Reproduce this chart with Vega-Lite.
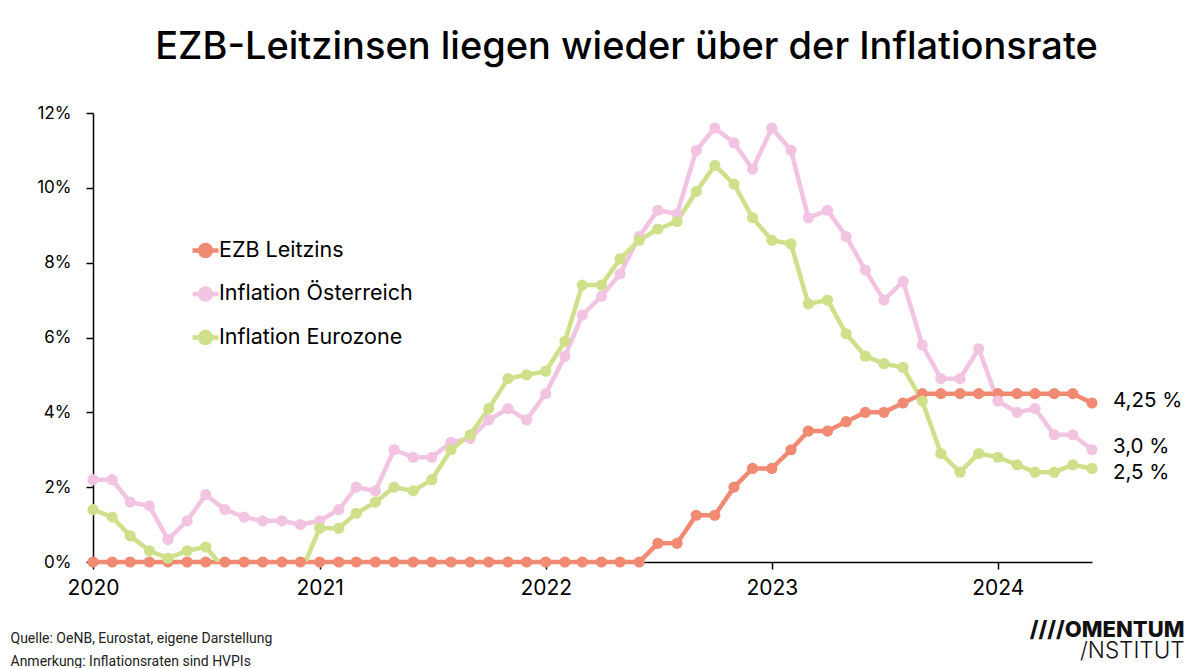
{
  "$schema": "https://vega.github.io/schema/vega-lite/v6.json",
  "width": 999,
  "height": 449,
  "autosize": {"type": "none"},
  "padding": {"left": 93, "top": 113, "right": 108, "bottom": 106},
  "background": "white",
  "config": {"font": "Inter", "view": {"stroke": null}, "axis": {"grid": false}},
  "title": {"text": "EZB-Leitzinsen liegen wieder über der Inflationsrate", "fontSize": 38, "fontWeight": 500, "color": "#000", "anchor": "middle", "frame": "group", "dx": 34, "offset": 37},
  "datasets": {
    "main": [
      {"date":"2020-01-01","series":"EZB Leitzins","value":0},{"date":"2020-02-01","series":"EZB Leitzins","value":0},{"date":"2020-03-01","series":"EZB Leitzins","value":0},{"date":"2020-04-01","series":"EZB Leitzins","value":0},{"date":"2020-05-01","series":"EZB Leitzins","value":0},{"date":"2020-06-01","series":"EZB Leitzins","value":0},{"date":"2020-07-01","series":"EZB Leitzins","value":0},{"date":"2020-08-01","series":"EZB Leitzins","value":0},{"date":"2020-09-01","series":"EZB Leitzins","value":0},{"date":"2020-10-01","series":"EZB Leitzins","value":0},{"date":"2020-11-01","series":"EZB Leitzins","value":0},{"date":"2020-12-01","series":"EZB Leitzins","value":0},
      {"date":"2021-01-01","series":"EZB Leitzins","value":0},{"date":"2021-02-01","series":"EZB Leitzins","value":0},{"date":"2021-03-01","series":"EZB Leitzins","value":0},{"date":"2021-04-01","series":"EZB Leitzins","value":0},{"date":"2021-05-01","series":"EZB Leitzins","value":0},{"date":"2021-06-01","series":"EZB Leitzins","value":0},{"date":"2021-07-01","series":"EZB Leitzins","value":0},{"date":"2021-08-01","series":"EZB Leitzins","value":0},{"date":"2021-09-01","series":"EZB Leitzins","value":0},{"date":"2021-10-01","series":"EZB Leitzins","value":0},{"date":"2021-11-01","series":"EZB Leitzins","value":0},{"date":"2021-12-01","series":"EZB Leitzins","value":0},
      {"date":"2022-01-01","series":"EZB Leitzins","value":0},{"date":"2022-02-01","series":"EZB Leitzins","value":0},{"date":"2022-03-01","series":"EZB Leitzins","value":0},{"date":"2022-04-01","series":"EZB Leitzins","value":0},{"date":"2022-05-01","series":"EZB Leitzins","value":0},{"date":"2022-06-01","series":"EZB Leitzins","value":0},{"date":"2022-07-01","series":"EZB Leitzins","value":0.5},{"date":"2022-08-01","series":"EZB Leitzins","value":0.5},{"date":"2022-09-01","series":"EZB Leitzins","value":1.25},{"date":"2022-10-01","series":"EZB Leitzins","value":1.25},{"date":"2022-11-01","series":"EZB Leitzins","value":2},{"date":"2022-12-01","series":"EZB Leitzins","value":2.5},
      {"date":"2023-01-01","series":"EZB Leitzins","value":2.5},{"date":"2023-02-01","series":"EZB Leitzins","value":3},{"date":"2023-03-01","series":"EZB Leitzins","value":3.5},{"date":"2023-04-01","series":"EZB Leitzins","value":3.5},{"date":"2023-05-01","series":"EZB Leitzins","value":3.75},{"date":"2023-06-01","series":"EZB Leitzins","value":4},{"date":"2023-07-01","series":"EZB Leitzins","value":4},{"date":"2023-08-01","series":"EZB Leitzins","value":4.25},{"date":"2023-09-01","series":"EZB Leitzins","value":4.5},{"date":"2023-10-01","series":"EZB Leitzins","value":4.5},{"date":"2023-11-01","series":"EZB Leitzins","value":4.5},{"date":"2023-12-01","series":"EZB Leitzins","value":4.5},
      {"date":"2024-01-01","series":"EZB Leitzins","value":4.5},{"date":"2024-02-01","series":"EZB Leitzins","value":4.5},{"date":"2024-03-01","series":"EZB Leitzins","value":4.5},{"date":"2024-04-01","series":"EZB Leitzins","value":4.5},{"date":"2024-05-01","series":"EZB Leitzins","value":4.5},{"date":"2024-06-01","series":"EZB Leitzins","value":4.25},

      {"date":"2020-01-01","series":"Inflation Österreich","value":2.2},{"date":"2020-02-01","series":"Inflation Österreich","value":2.2},{"date":"2020-03-01","series":"Inflation Österreich","value":1.6},{"date":"2020-04-01","series":"Inflation Österreich","value":1.5},{"date":"2020-05-01","series":"Inflation Österreich","value":0.6},{"date":"2020-06-01","series":"Inflation Österreich","value":1.1},{"date":"2020-07-01","series":"Inflation Österreich","value":1.8},{"date":"2020-08-01","series":"Inflation Österreich","value":1.4},{"date":"2020-09-01","series":"Inflation Österreich","value":1.2},{"date":"2020-10-01","series":"Inflation Österreich","value":1.1},{"date":"2020-11-01","series":"Inflation Österreich","value":1.1},{"date":"2020-12-01","series":"Inflation Österreich","value":1.0},
      {"date":"2021-01-01","series":"Inflation Österreich","value":1.1},{"date":"2021-02-01","series":"Inflation Österreich","value":1.4},{"date":"2021-03-01","series":"Inflation Österreich","value":2.0},{"date":"2021-04-01","series":"Inflation Österreich","value":1.9},{"date":"2021-05-01","series":"Inflation Österreich","value":3.0},{"date":"2021-06-01","series":"Inflation Österreich","value":2.8},{"date":"2021-07-01","series":"Inflation Österreich","value":2.8},{"date":"2021-08-01","series":"Inflation Österreich","value":3.2},{"date":"2021-09-01","series":"Inflation Österreich","value":3.3},{"date":"2021-10-01","series":"Inflation Österreich","value":3.8},{"date":"2021-11-01","series":"Inflation Österreich","value":4.1},{"date":"2021-12-01","series":"Inflation Österreich","value":3.8},
      {"date":"2022-01-01","series":"Inflation Österreich","value":4.5},{"date":"2022-02-01","series":"Inflation Österreich","value":5.5},{"date":"2022-03-01","series":"Inflation Österreich","value":6.6},{"date":"2022-04-01","series":"Inflation Österreich","value":7.1},{"date":"2022-05-01","series":"Inflation Österreich","value":7.7},{"date":"2022-06-01","series":"Inflation Österreich","value":8.7},{"date":"2022-07-01","series":"Inflation Österreich","value":9.4},{"date":"2022-08-01","series":"Inflation Österreich","value":9.3},{"date":"2022-09-01","series":"Inflation Österreich","value":11.0},{"date":"2022-10-01","series":"Inflation Österreich","value":11.6},{"date":"2022-11-01","series":"Inflation Österreich","value":11.2},{"date":"2022-12-01","series":"Inflation Österreich","value":10.5},
      {"date":"2023-01-01","series":"Inflation Österreich","value":11.6},{"date":"2023-02-01","series":"Inflation Österreich","value":11.0},{"date":"2023-03-01","series":"Inflation Österreich","value":9.2},{"date":"2023-04-01","series":"Inflation Österreich","value":9.4},{"date":"2023-05-01","series":"Inflation Österreich","value":8.7},{"date":"2023-06-01","series":"Inflation Österreich","value":7.8},{"date":"2023-07-01","series":"Inflation Österreich","value":7.0},{"date":"2023-08-01","series":"Inflation Österreich","value":7.5},{"date":"2023-09-01","series":"Inflation Österreich","value":5.8},{"date":"2023-10-01","series":"Inflation Österreich","value":4.9},{"date":"2023-11-01","series":"Inflation Österreich","value":4.9},{"date":"2023-12-01","series":"Inflation Österreich","value":5.7},
      {"date":"2024-01-01","series":"Inflation Österreich","value":4.3},{"date":"2024-02-01","series":"Inflation Österreich","value":4.0},{"date":"2024-03-01","series":"Inflation Österreich","value":4.1},{"date":"2024-04-01","series":"Inflation Österreich","value":3.4},{"date":"2024-05-01","series":"Inflation Österreich","value":3.4},{"date":"2024-06-01","series":"Inflation Österreich","value":3.0},

      {"date":"2020-01-01","series":"Inflation Eurozone","value":1.4},{"date":"2020-02-01","series":"Inflation Eurozone","value":1.2},{"date":"2020-03-01","series":"Inflation Eurozone","value":0.7},{"date":"2020-04-01","series":"Inflation Eurozone","value":0.3},{"date":"2020-05-01","series":"Inflation Eurozone","value":0.1},{"date":"2020-06-01","series":"Inflation Eurozone","value":0.3},{"date":"2020-07-01","series":"Inflation Eurozone","value":0.4},{"date":"2020-08-01","series":"Inflation Eurozone","value":-0.2},{"date":"2020-09-01","series":"Inflation Eurozone","value":-0.3},{"date":"2020-10-01","series":"Inflation Eurozone","value":-0.3},{"date":"2020-11-01","series":"Inflation Eurozone","value":-0.3},{"date":"2020-12-01","series":"Inflation Eurozone","value":-0.3},
      {"date":"2021-01-01","series":"Inflation Eurozone","value":0.9},{"date":"2021-02-01","series":"Inflation Eurozone","value":0.9},{"date":"2021-03-01","series":"Inflation Eurozone","value":1.3},{"date":"2021-04-01","series":"Inflation Eurozone","value":1.6},{"date":"2021-05-01","series":"Inflation Eurozone","value":2.0},{"date":"2021-06-01","series":"Inflation Eurozone","value":1.9},{"date":"2021-07-01","series":"Inflation Eurozone","value":2.2},{"date":"2021-08-01","series":"Inflation Eurozone","value":3.0},{"date":"2021-09-01","series":"Inflation Eurozone","value":3.4},{"date":"2021-10-01","series":"Inflation Eurozone","value":4.1},{"date":"2021-11-01","series":"Inflation Eurozone","value":4.9},{"date":"2021-12-01","series":"Inflation Eurozone","value":5.0},
      {"date":"2022-01-01","series":"Inflation Eurozone","value":5.1},{"date":"2022-02-01","series":"Inflation Eurozone","value":5.9},{"date":"2022-03-01","series":"Inflation Eurozone","value":7.4},{"date":"2022-04-01","series":"Inflation Eurozone","value":7.4},{"date":"2022-05-01","series":"Inflation Eurozone","value":8.1},{"date":"2022-06-01","series":"Inflation Eurozone","value":8.6},{"date":"2022-07-01","series":"Inflation Eurozone","value":8.9},{"date":"2022-08-01","series":"Inflation Eurozone","value":9.1},{"date":"2022-09-01","series":"Inflation Eurozone","value":9.9},{"date":"2022-10-01","series":"Inflation Eurozone","value":10.6},{"date":"2022-11-01","series":"Inflation Eurozone","value":10.1},{"date":"2022-12-01","series":"Inflation Eurozone","value":9.2},
      {"date":"2023-01-01","series":"Inflation Eurozone","value":8.6},{"date":"2023-02-01","series":"Inflation Eurozone","value":8.5},{"date":"2023-03-01","series":"Inflation Eurozone","value":6.9},{"date":"2023-04-01","series":"Inflation Eurozone","value":7.0},{"date":"2023-05-01","series":"Inflation Eurozone","value":6.1},{"date":"2023-06-01","series":"Inflation Eurozone","value":5.5},{"date":"2023-07-01","series":"Inflation Eurozone","value":5.3},{"date":"2023-08-01","series":"Inflation Eurozone","value":5.2},{"date":"2023-09-01","series":"Inflation Eurozone","value":4.3},{"date":"2023-10-01","series":"Inflation Eurozone","value":2.9},{"date":"2023-11-01","series":"Inflation Eurozone","value":2.4},{"date":"2023-12-01","series":"Inflation Eurozone","value":2.9},
      {"date":"2024-01-01","series":"Inflation Eurozone","value":2.8},{"date":"2024-02-01","series":"Inflation Eurozone","value":2.6},{"date":"2024-03-01","series":"Inflation Eurozone","value":2.4},{"date":"2024-04-01","series":"Inflation Eurozone","value":2.4},{"date":"2024-05-01","series":"Inflation Eurozone","value":2.6},{"date":"2024-06-01","series":"Inflation Eurozone","value":2.5}
    ],
    "ends": [
      {"date":"2024-06-01","series":"EZB Leitzins","value":4.25,"label":"4,25 %"},
      {"date":"2024-06-01","series":"Inflation Österreich","value":3.0,"label":"3,0 %"},
      {"date":"2024-06-01","series":"Inflation Eurozone","value":2.5,"label":"2,5 %"}
    ]
  },
  "data": {"name": "main"},
  "encoding": {
    "x": {
      "field": "date", "type": "temporal",
      "scale": {"domain": ["2020-01-01", "2024-06-01"], "nice": false},
      "axis": {
        "format": "%Y", "tickCount": {"interval": "year", "step": 1},
        "labelFontSize": 21, "labelColor": "#000", "labelPadding": 8, "labelFlush": false, "labelOverlap": false,
        "tickSize": 7, "tickColor": "#000", "tickWidth": 1.5,
        "domainColor": "#000", "domainWidth": 1.5, "grid": false,
        "title": ["Quelle: OeNB, Eurostat, eigene Darstellung", "Anmerkung: Inflationsraten sind HVPIs"],
        "titleX": -83, "titleY": 80, "titleAlign": "left", "titleAngle": 0, "titleBaseline": "alphabetic",
        "titleFontSize": 14, "titleFontWeight": "normal", "titleColor": "#222", "titleLineHeight": 23,
        "titleFont": "Liberation Sans Narrow, Roboto, sans-serif"
      }
    },
    "color": {
      "field": "series", "type": "nominal",
      "scale": {"domain": ["EZB Leitzins", "Inflation Österreich", "Inflation Eurozone"], "range": ["#F08A72", "#F2C4E1", "#CFE08A"]},
      "legend": {
        "orient": "none", "legendX": 97, "legendY": 122, "title": null, "padding": 0,
        "symbolType": "M-1,0L1,0M-0.42,0A0.42,0.42,0,1,1,0.42,0A0.42,0.42,0,1,1,-0.42,0Z",
        "symbolSize": 676, "symbolStrokeWidth": 4.5,
        "labelFontSize": 21.5, "labelColor": "#000", "labelOffset": -2, "labelLimit": 400, "rowPadding": 13.5,
        "encode": {"symbols": {"update": {
          "fill": {"scale": "color", "field": "value"},
          "stroke": {"scale": "color", "field": "value"},
          "strokeWidth": {"value": 4.5},
          "opacity": {"value": 1}
        }}}
      }
    }
  },
  "layer": [
    {
      "transform": [{"filter": "datum.series != 'Inflation Eurozone'"}],
      "mark": {"type": "line", "strokeWidth": 4.5},
      "encoding": {
        "y": {
          "field": "value", "type": "quantitative",
          "scale": {"domain": [0, 12], "nice": false, "zero": true},
          "axis": {
            "orient": "left", "values": [0, 2, 4, 6, 8, 10, 12], "labelExpr": "datum.value + '%'",
            "labelFontSize": 17, "labelColor": "#000", "labelPadding": 15,
            "tickSize": 7, "tickColor": "#000", "tickWidth": 1.5,
            "domainColor": "#000", "domainWidth": 1.5, "grid": false,
            "title": "////OMENTUM", "titleX": 1091, "titleY": 523, "titleAngle": 0, "titleAlign": "right",
            "titleBaseline": "alphabetic", "titleFontSize": 22, "titleFontWeight": 800, "titleColor": "#111"
          }
        }
      }
    },
    {
      "transform": [{"filter": "datum.series == 'Inflation Eurozone'"}],
      "mark": {"type": "line", "strokeWidth": 4.5, "clip": true},
      "encoding": {"y": {"field": "value", "type": "quantitative", "scale": {"domain": [0, 12], "nice": false, "zero": true}, "axis": null}}
    },
    {
      "transform": [{"filter": "datum.value >= 0"}],
      "mark": {"type": "circle", "size": 125, "opacity": 1},
      "encoding": {"y": {"field": "value", "type": "quantitative", "scale": {"domain": [0, 12], "nice": false, "zero": true}, "axis": null}}
    },
    {
      "data": {"name": "ends"},
      "transform": [{"filter": "datum.series == 'EZB Leitzins'"}],
      "mark": {"type": "text", "align": "left", "baseline": "middle", "dx": 21, "dy": -2, "fontSize": 20.5, "color": "#000"},
      "encoding": {
        "y": {
          "field": "value", "type": "quantitative", "scale": {"domain": [0, 12], "nice": false, "zero": true},
          "axis": {
            "orient": "right", "labels": false, "ticks": false, "domain": false, "grid": false,
            "title": "/NSTITUT", "titleX": 92, "titleY": 544, "titleAngle": 0, "titleAlign": "right",
            "titleBaseline": "alphabetic", "titleFontSize": 22.5, "titleFontWeight": 300, "titleColor": "#111"
          }
        },
        "text": {"field": "label"},
        "color": {"value": "#000"}
      }
    },
    {
      "data": {"name": "ends"},
      "transform": [{"filter": "datum.series == 'Inflation Österreich'"}],
      "mark": {"type": "text", "align": "left", "baseline": "middle", "dx": 21, "dy": -3, "fontSize": 20.5, "color": "#000"},
      "encoding": {
        "y": {"field": "value", "type": "quantitative", "scale": {"domain": [0, 12], "nice": false, "zero": true}, "axis": null},
        "text": {"field": "label"},
        "color": {"value": "#000"}
      }
    },
    {
      "data": {"name": "ends"},
      "transform": [{"filter": "datum.series == 'Inflation Eurozone'"}],
      "mark": {"type": "text", "align": "left", "baseline": "middle", "dx": 21, "dy": 5, "fontSize": 20.5, "color": "#000"},
      "encoding": {
        "y": {"field": "value", "type": "quantitative", "scale": {"domain": [0, 12], "nice": false, "zero": true}, "axis": null},
        "text": {"field": "label"},
        "color": {"value": "#000"}
      }
    }
  ],
  "resolve": {"axis": {"y": "independent"}}
}
